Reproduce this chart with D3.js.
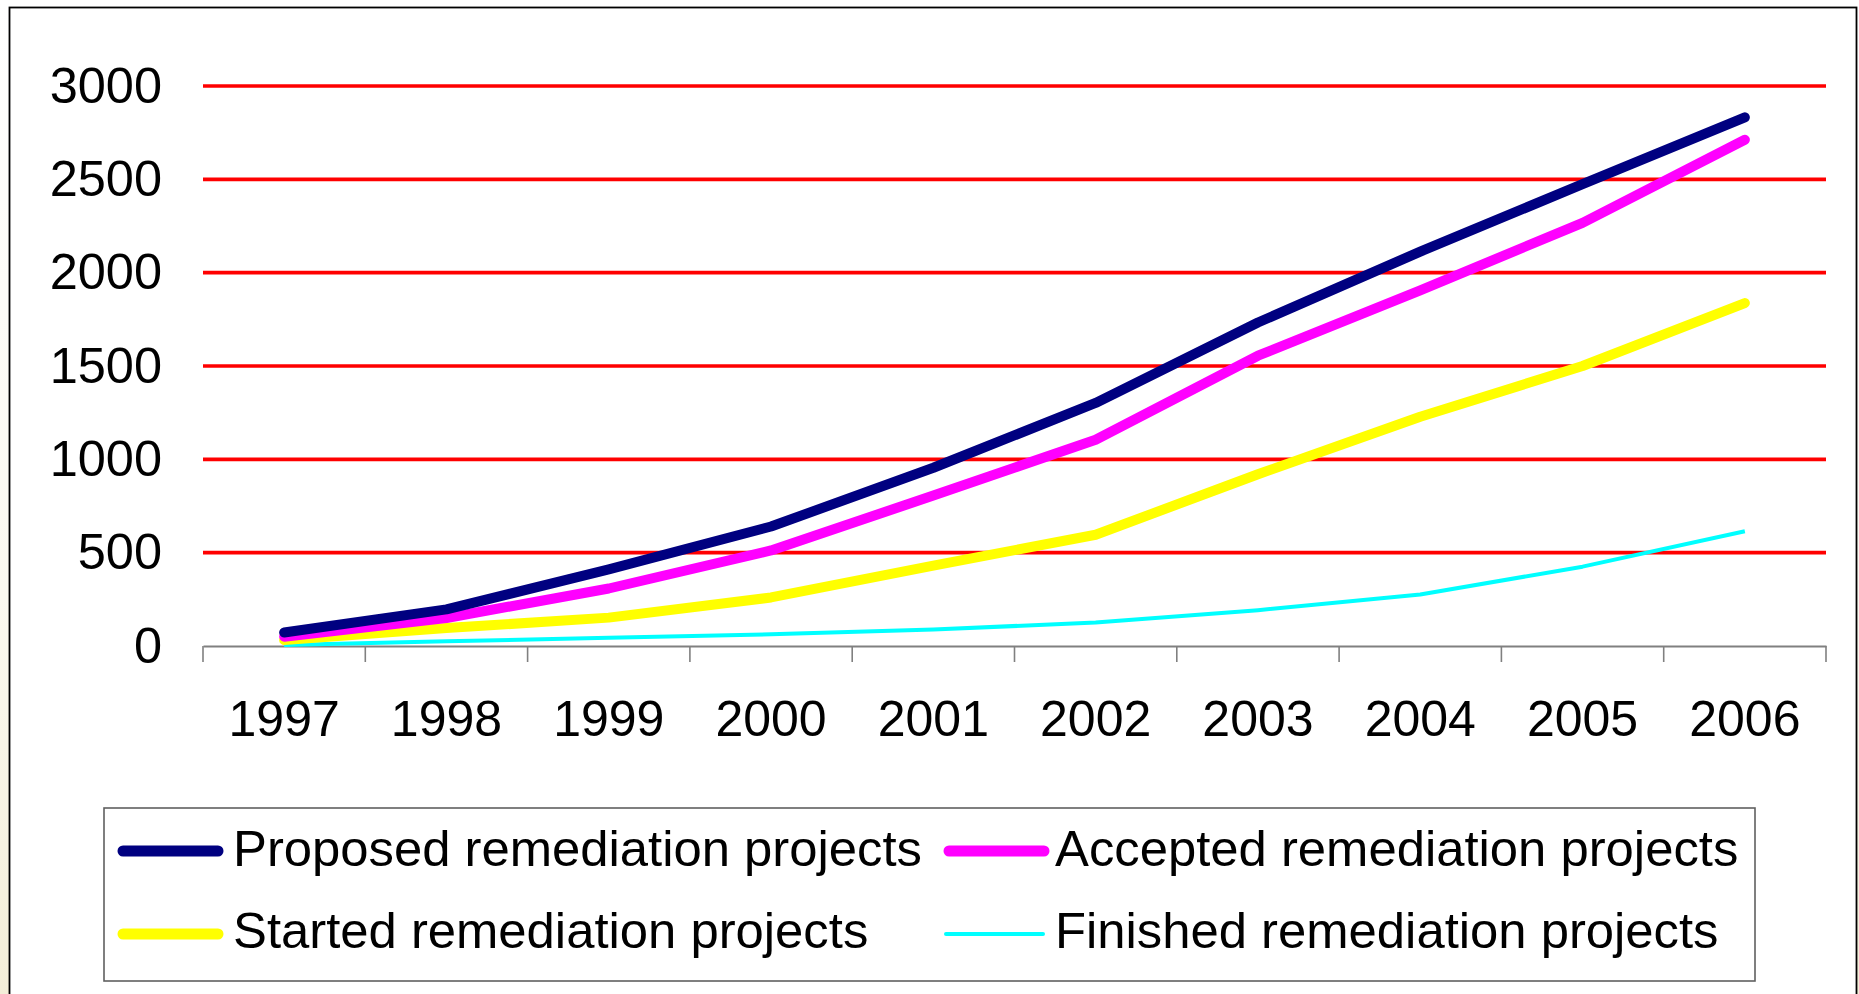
<!DOCTYPE html>
<html>
<head>
<meta charset="utf-8">
<script src="https://cdn.jsdelivr.net/npm/d3@7/dist/d3.min.js"></script>
<style>
  html, body { margin: 0; padding: 0; background: #ffffff; }
  svg { display: block; }
  text { font-family: "Liberation Sans", Arial, sans-serif; fill: #000; }
</style>
</head>
<body>
<svg id="chart" width="1859" height="994"></svg>
<script>
const years = ["1997","1998","1999","2000","2001","2002","2003","2004","2005","2006"];
const proposed = [72, 196, 410, 640, 955, 1302, 1733, 2113, 2474, 2832];
const accepted = [50, 150, 308, 512, 806, 1105, 1555, 1905, 2267, 2712];
const started  = [32, 96, 152, 260, 431, 596, 920, 1228, 1500, 1837];
const finished = [5, 25, 44, 63, 88, 126, 192, 276, 425, 615];
const yTicks = [0, 500, 1000, 1500, 2000, 2500, 3000];
const seriesNames = ["Proposed remediation projects", "Accepted remediation projects",
                     "Started remediation projects", "Finished remediation projects"];
const seriesColors = ["#000080", "#ff00ff", "#ffff00", "#00ffff"];
const seriesWidths = [10, 10, 10, 4];
const seriesData = [proposed, accepted, started, finished];

(function () {
const svg = d3.select("#chart");

// background tint at the left edge and outer frame
const defs = svg.append("defs");
const grad = defs.append("linearGradient").attr("id", "bg").attr("x1", 0).attr("y1", 0).attr("x2", 0).attr("y2", 1);
grad.append("stop").attr("offset", "0%").attr("stop-color", "#ffffff");
grad.append("stop").attr("offset", "60%").attr("stop-color", "#fbf9f0");
grad.append("stop").attr("offset", "100%").attr("stop-color", "#f3eed8");
svg.append("rect").attr("x", 0).attr("y", 0).attr("width", 1859).attr("height", 994).attr("fill", "url(#bg)");
svg.append("rect").attr("x", 9.5).attr("y", 7.5).attr("width", 1847).attr("height", 1000)
  .attr("fill", "#ffffff").attr("stroke", "#000").attr("stroke-width", 1.8);

const pLeft = 203, pRight = 1826, pTop = 86, pBottom = 646;

const x = d3.scaleBand().domain(years).range([pLeft, pRight]).paddingInner(0).paddingOuter(0);
const y = d3.scaleLinear().domain([0, 3000]).range([pBottom, pTop]);

// gridlines
svg.append("g")
  .selectAll("line")
  .data(yTicks.filter(d => d > 0))
  .join("line")
  .attr("x1", pLeft).attr("x2", pRight)
  .attr("y1", d => y(d)).attr("y2", d => y(d))
  .attr("stroke", "#ff0000").attr("stroke-width", 3.6);

// y axis labels
const yAxis = svg.append("g").attr("transform", `translate(${pLeft},0)`)
  .call(d3.axisLeft(y).tickValues(yTicks).tickSize(0).tickPadding(41).tickFormat(d3.format("d")));
yAxis.select(".domain").remove();
yAxis.selectAll("text").style("font-size", "50.5px").style("font-family", "Liberation Sans, Arial, sans-serif").attr("fill", "#000");

// x axis
const xAxis = svg.append("g").attr("transform", `translate(0,${pBottom})`)
  .call(d3.axisBottom(x).tickSize(0).tickPadding(54));
xAxis.select(".domain").attr("stroke", "#808080").attr("stroke-width", 2);
xAxis.selectAll("text").style("font-size", "50px").style("font-family", "Liberation Sans, Arial, sans-serif").attr("fill", "#000");
const boundaries = years.map(d => x(d)).concat([x(years[years.length - 1]) + x.bandwidth()]);
svg.append("g").selectAll("line").data(boundaries).join("line")
  .attr("x1", d => d).attr("x2", d => d)
  .attr("y1", pBottom).attr("y2", pBottom + 16)
  .attr("stroke", "#808080").attr("stroke-width", 1.6);

// series lines
const line = d3.line()
  .x((d, i) => x(years[i]) + x.bandwidth() / 2)
  .y(d => y(d));
svg.append("g").selectAll("path")
  .data([3, 2, 1, 0])
  .join("path")
  .attr("d", k => line(seriesData[k]))
  .attr("fill", "none")
  .attr("stroke", k => seriesColors[k])
  .attr("stroke-width", k => seriesWidths[k])
  .attr("stroke-linecap", k => k === 3 ? "butt" : "round")
  .attr("stroke-linejoin", "round");

// legend
svg.append("rect").attr("x", 104).attr("y", 808).attr("width", 1651).attr("height", 173)
  .attr("fill", "#fff").attr("stroke", "#606060").attr("stroke-width", 1.6);
const legendPos = [
  { sx: 118, tx: 233, ly: 851, ty: 866 },
  { sx: 944, tx: 1055, ly: 851, ty: 866 },
  { sx: 118, tx: 233, ly: 934, ty: 948 },
  { sx: 946, tx: 1055, ly: 934, ty: 948 }
];
const lg = svg.append("g").selectAll("g").data(seriesNames).join("g");
lg.append("line")
  .attr("x1", (d, i) => legendPos[i].sx + (i === 3 ? 0 : 5))
  .attr("x2", (d, i) => legendPos[i].sx + (i === 3 ? 97 : 100))
  .attr("y1", (d, i) => legendPos[i].ly).attr("y2", (d, i) => legendPos[i].ly)
  .attr("stroke", (d, i) => seriesColors[i])
  .attr("stroke-width", (d, i) => i === 3 ? 4 : 11)
  .attr("stroke-linecap", "round");
lg.append("text")
  .attr("x", (d, i) => legendPos[i].tx)
  .attr("y", (d, i) => legendPos[i].ty)
  .style("font-size", "50.8px")
  .text(d => d);
})();
</script>
</body>
</html>
